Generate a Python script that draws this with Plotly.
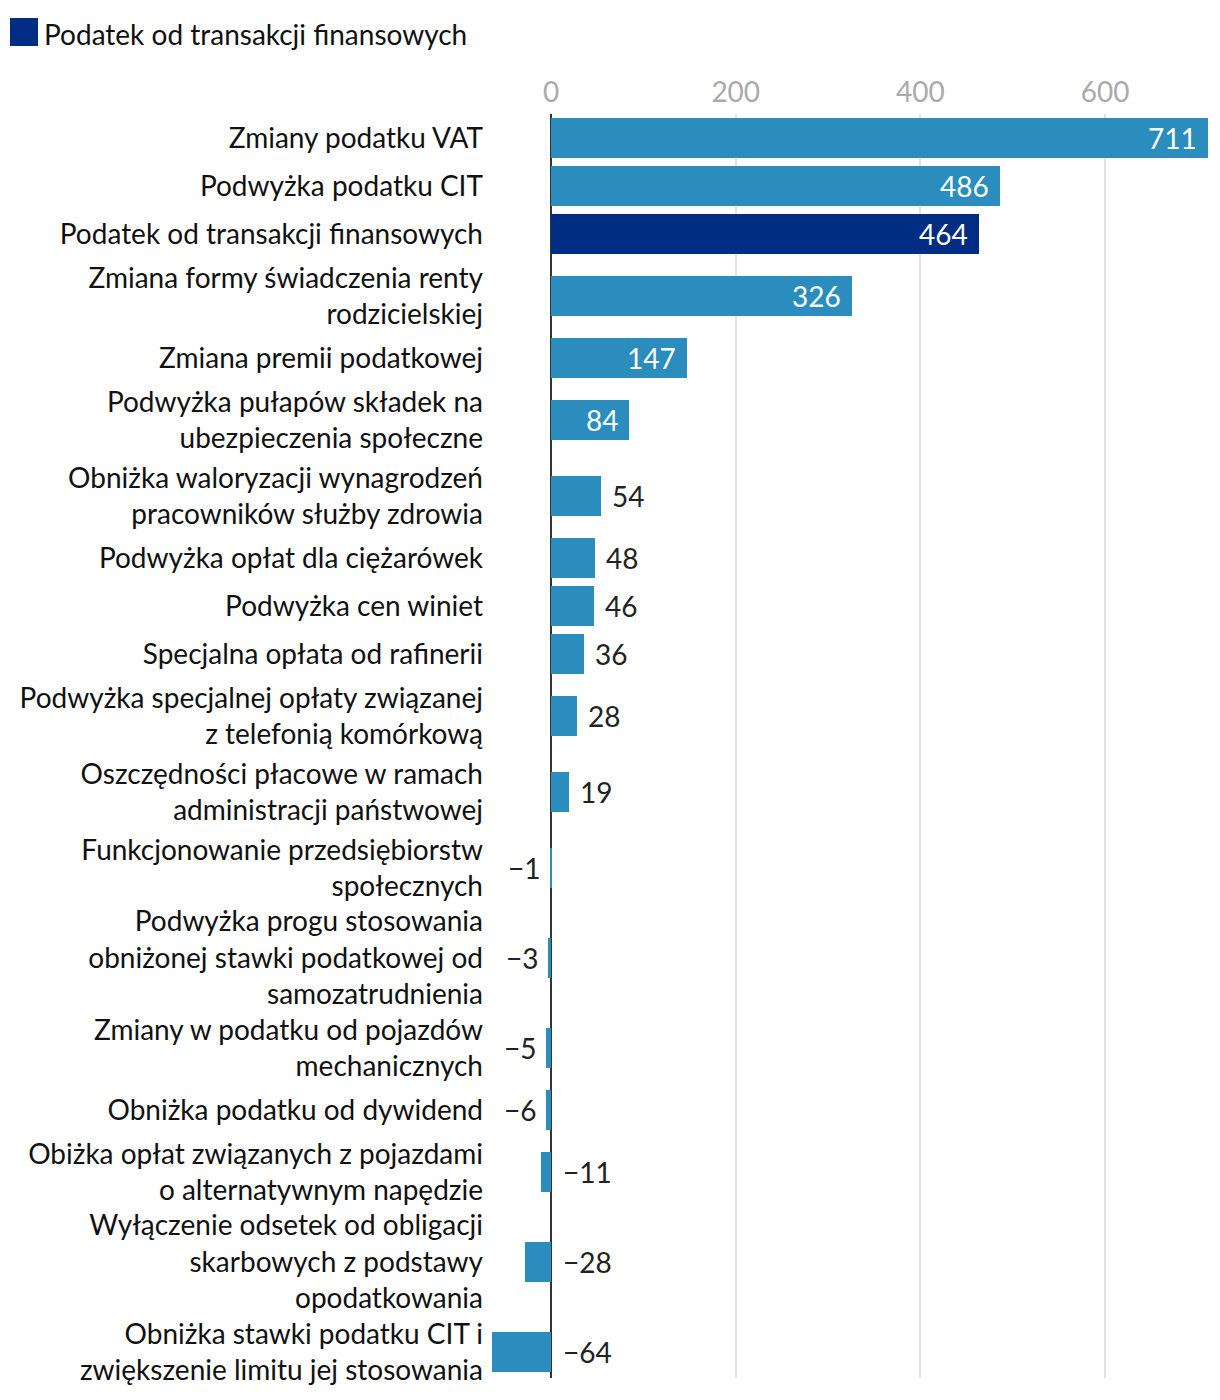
import plotly.graph_objects as go

categories = [
    "Zmiany podatku VAT",
    "Podwyżka podatku CIT",
    "Podatek od transakcji finansowych",
    "Zmiana formy świadczenia renty<br>rodzicielskiej",
    "Zmiana premii podatkowej",
    "Podwyżka pułapów składek na<br>ubezpieczenia społeczne",
    "Obniżka waloryzacji wynagrodzeń<br>pracowników służby zdrowia",
    "Podwyżka opłat dla ciężarówek",
    "Podwyżka cen winiet",
    "Specjalna opłata od rafinerii",
    "Podwyżka specjalnej opłaty związanej<br>z telefonią komórkową",
    "Oszczędności płacowe w ramach<br>administracji państwowej",
    "Funkcjonowanie przedsiębiorstw<br>społecznych",
    "Podwyżka progu stosowania<br>obniżonej stawki podatkowej od<br>samozatrudnienia",
    "Zmiany w podatku od pojazdów<br>mechanicznych",
    "Obniżka podatku od dywidend",
    "Obiżka opłat związanych z pojazdami<br>o alternatywnym napędzie",
    "Wyłączenie odsetek od obligacji<br>skarbowych z podstawy<br>opodatkowania",
    "Obniżka stawki podatku CIT i<br>zwiększenie limitu jej stosowania",
]
values = [711, 486, 464, 326, 147, 84, 54, 48, 46, 36, 28, 19, -1, -3, -5, -6, -11, -28, -64]
highlight = "Podatek od transakcji finansowych"
legend_label = "Podatek od transakcji finansowych"
x_ticks = [0, 200, 400, 600]

LIGHT = "#2a8dbe"
DARK = "#002d84"
FONT = "Lato"
FS = 28

# vertical layout: row height grows with number of label lines
centers = []
pos = 0
for c in categories:
    n = c.count("<br>") + 1
    h = 20 + 28 * n
    centers.append(pos + h / 2)
    pos += h
total = pos

W, H = 1212, 1392
ML, MR, MT = 484, 12, 106
PH = total - 12
MB = H - MT - PH
pw = W - ML - MR
ph = PH

fig = go.Figure()
norm_y = [y for y, c in zip(centers, categories) if c != highlight]
norm_x = [v for v, c in zip(values, categories) if c != highlight]
hl_y = [y for y, c in zip(centers, categories) if c == highlight]
hl_x = [v for v, c in zip(values, categories) if c == highlight]

fig.add_trace(go.Bar(x=norm_x, y=norm_y, orientation="h", width=40,
                     marker=dict(color=LIGHT, line=dict(width=0)), showlegend=False,
                     hoverinfo="skip"))
fig.add_trace(go.Bar(x=hl_x, y=hl_y, orientation="h", width=40,
                     marker=dict(color=DARK, line=dict(width=0)), showlegend=False,
                     name=legend_label, hoverinfo="skip"))

annotations = []
for v, y in zip(values, centers):
    txt = str(v).replace("-", "\u2212")
    if v >= 80:
        a = dict(x=v, xanchor="right", xshift=-9, font=dict(color="white", size=FS, family=FONT))
    elif v > 0:
        a = dict(x=v, xanchor="left", xshift=9, font=dict(color="#222222", size=FS, family=FONT))
    elif v > -10:
        a = dict(x=v, xanchor="right", xshift=-8, font=dict(color="#222222", size=FS, family=FONT))
    else:
        a = dict(x=0, xanchor="left", xshift=10, font=dict(color="#222222", size=FS, family=FONT))
    a.update(y=y, xref="x", yref="y", text=txt, showarrow=False, yanchor="middle")
    annotations.append(a)

# legend (drawn manually, above the plot)
annotations.append(dict(x=(34 - ML) / pw, y=1 + (MT - 26) / ph, xref="paper", yref="paper",
                        text=legend_label, showarrow=False, xanchor="left", yanchor="middle",
                        font=dict(size=FS, family=FONT, color="#111111")))
fig.add_shape(type="rect", xref="paper", yref="paper",
              x0=(2 - ML) / pw, x1=(30 - ML) / pw,
              y0=1 + (MT - 10) / ph, y1=1 + (MT - 38) / ph,
              fillcolor=DARK, line=dict(width=0))

fig.update_layout(
    annotations=annotations,
    width=W, height=H,
    margin=dict(l=ML, r=MR, t=MT, b=MB, pad=0),
    plot_bgcolor="white", paper_bgcolor="white",
    font=dict(family=FONT, size=FS, color="#111111"),
    bargap=0,
    showlegend=False,
    xaxis=dict(range=[-64, 711.5], side="top", tickvals=x_ticks,
               ticktext=[str(t) for t in x_ticks],
               tickfont=dict(color="#aaaaaa", size=FS, family=FONT),
               ticklabelstandoff=5,
               showgrid=True, gridcolor="#e3e3e3", gridwidth=2,
               zeroline=True, zerolinecolor="#333333", zerolinewidth=2,
               ticks="", showline=False, fixedrange=True, automargin=False),
    yaxis=dict(range=[PH, 0], tickvals=centers, ticktext=categories,
               tickfont=dict(color="#111111", size=FS, family=FONT),
               ticklabelstandoff=8,
               showgrid=False, zeroline=False, ticks="", ticklen=0,
               showline=False, fixedrange=True, automargin=False),
)

fig.write_html("out.html")
